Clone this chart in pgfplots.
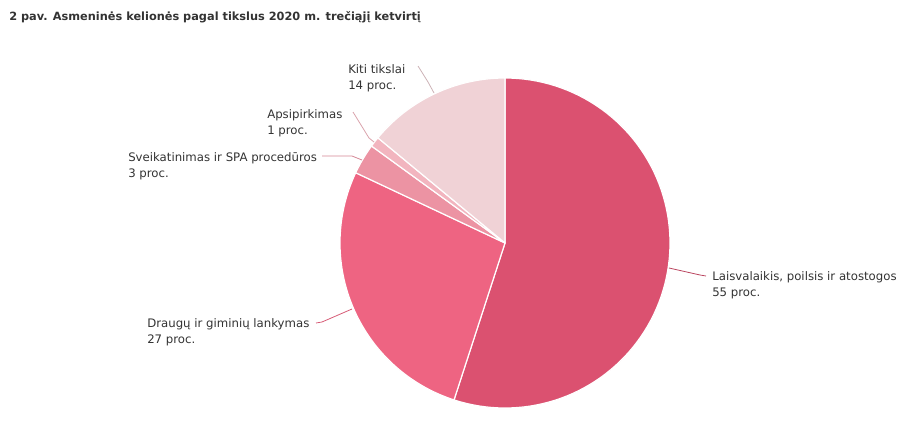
\documentclass[border=0pt]{standalone}
\usepackage{pgfplots}
\usepackage{pgfplotstable}
\pgfplotsset{compat=1.18}
\usepackage{fontspec}
\setmainfont{DejaVu Sans}
\definecolor{cA}{HTML}{DB5170}
\definecolor{cB}{HTML}{EE6482}
\definecolor{cC}{HTML}{EC93A3}
\definecolor{cD}{HTML}{F2B5BF}
\definecolor{cE}{HTML}{F0D2D6}
\definecolor{txt}{HTML}{333333}
\pgfplotstableread{
share
55
27
3
1
14
}\piedata
\newcommand\slice[3]{\addplot[fill=#3, draw=white, line width=0.9pt, line join=round, domain=#1:#2, samples=90, variable=\t] ({505+165*cos(\t)},{243-165*sin(\t)}) -- (axis cs:505,243) -- cycle;}
\begin{document}
\begin{tikzpicture}
\pgfplotstablegetelem{0}{share}\of\piedata\let\vA\pgfplotsretval
\pgfplotstablegetelem{1}{share}\of\piedata\let\vB\pgfplotsretval
\pgfplotstablegetelem{2}{share}\of\piedata\let\vC\pgfplotsretval
\pgfplotstablegetelem{3}{share}\of\piedata\let\vD\pgfplotsretval
\pgfplotstablegetelem{4}{share}\of\piedata\let\vE\pgfplotsretval
\pgfmathsetmacro\aA{90}
\pgfmathsetmacro\aB{\aA-3.6*\vA}
\pgfmathsetmacro\aC{\aB-3.6*\vB}
\pgfmathsetmacro\aD{\aC-3.6*\vC}
\pgfmathsetmacro\aE{\aD-3.6*\vD}
\pgfmathsetmacro\aF{\aE-3.6*\vE}
\begin{axis}[x=0.75pt, y=0.75pt, y dir=reverse, xmin=0, xmax=923, ymin=0, ymax=431,
  hide axis, scale only axis, clip=false]
\slice{\aB}{\aA}{cA}
\slice{\aC}{\aB}{cB}
\slice{\aD}{\aC}{cC}
\slice{\aE}{\aD}{cD}
\slice{\aF}{\aE}{cE}
% connectors
\draw[cA!85!black, line width=0.6pt] (axis cs:669,268) -- (axis cs:700,275) -- (axis cs:706,276);
\draw[cB!90!black, line width=0.6pt] (axis cs:352,309) -- (axis cs:322,322) -- (axis cs:316,323);
\draw[cC!90!black, line width=0.6pt] (axis cs:362,160) -- (axis cs:352,156) -- (axis cs:322,156);
\draw[cD!90!black, line width=0.6pt] (axis cs:374,142) -- (axis cs:369,138) -- (axis cs:353,112);
\draw[cE!85!black, line width=0.6pt] (axis cs:434,93) -- (axis cs:428,82) -- (axis cs:418,66);
% labels
\tikzset{lab/.style={anchor=west, align=left, inner sep=0pt, text=txt, font=\fontsize{8.8}{12.2}\selectfont}}
\node[lab] at (axis cs:712,285) {Laisvalaikis, poilsis ir atostogos\\55 proc.};
\node[lab] at (axis cs:147,332) {Draugų ir giminių lankymas\\27 proc.};
\node[lab] at (axis cs:128,166) {Sveikatinimas ir SPA procedūros\\3 proc.};
\node[lab] at (axis cs:267,123) {Apsipirkimas\\1 proc.};
\node[lab] at (axis cs:348,78) {Kiti tikslai\\14 proc.};
\node[anchor=west, inner sep=0pt, text=txt, font=\fontsize{8.5}{11}\selectfont\bfseries] at (axis cs:9,17) {2 pav. Asmeninės kelionės pagal tikslus 2020 m. trečiąjį ketvirtį};
\end{axis}
\pgfresetboundingbox
\path[use as bounding box] (current axis.south west) rectangle (current axis.north east);
\end{tikzpicture}
\end{document}
